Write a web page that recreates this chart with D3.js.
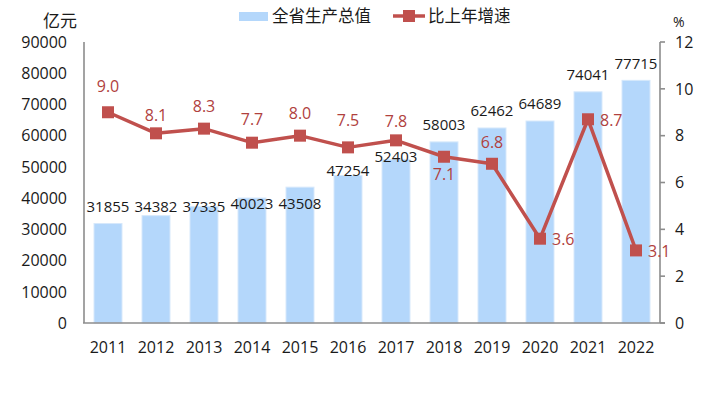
<!DOCTYPE html>
<meta charset="utf-8">
<head>
    <script src="https://d3js.org/d3.v7.min.js"></script>
    <style>
        body { margin: 0; background: #fff; }
        text { font-family: "Open Sans", "Noto Sans CJK SC", sans-serif; fill: #1a1a1a; }
        .cjk { font-family: "Noto Sans CJK SC", sans-serif; }
        .axis-line { stroke: #8c8c8c; stroke-width: 1.6; fill: none; }
    </style>
</head>
<body>
<div id="chart"></div>
<script>
    // data
    var years = ["2011", "2012", "2013", "2014", "2015", "2016", "2017", "2018", "2019", "2020", "2021", "2022"];
    var gdp = [31855, 34382, 37335, 40023, 43508, 47254, 52403, 58003, 62462, 64689, 74041, 77715];
    var growth = [9.0, 8.1, 8.3, 7.7, 8.0, 7.5, 7.8, 7.1, 6.8, 3.6, 8.7, 3.1];
    var leftTicks = [0, 10000, 20000, 30000, 40000, 50000, 60000, 70000, 80000, 90000];
    var rightTicks = [0, 2, 4, 6, 8, 10, 12];

    var width = 720, height = 398;
    // plot area edges (note: "top" is a reserved global in browsers)
    var pLeft = 84, pRight = 660, pTop = 42, pBottom = 323;

    var red = "#c0504d", redText = "#b0413e", blue = "#b4d7fb";

    var svg = d3.select("#chart").append("svg")
        .attr("width", width)
        .attr("height", height);

    var x = d3.scaleBand().domain(years).range([pLeft, pRight])
        .paddingInner(0.417).paddingOuter(0.2085);
    var yL = d3.scaleLinear().domain([0, 90000]).range([pBottom, pTop]);
    var yR = d3.scaleLinear().domain([0, 12]).range([pBottom, pTop]);

    // bars
    svg.append("g").selectAll("rect")
        .data(gdp)
        .enter().append("rect")
        .attr("x", function (d, i) { return x(years[i]); })
        .attr("y", function (d) { return yL(d); })
        .attr("width", x.bandwidth())
        .attr("height", function (d) { return yL(0) - yL(d); })
        .attr("fill", blue)
        .attr("stroke", "#d6e8fb")
        .attr("stroke-width", 1);

    // axes lines
    svg.append("line").attr("class", "axis-line")
        .attr("x1", pLeft).attr("x2", pLeft).attr("y1", pTop).attr("y2", pBottom);
    svg.append("line").attr("class", "axis-line")
        .attr("x1", pRight).attr("x2", pRight).attr("y1", pTop).attr("y2", pBottom);
    svg.append("line").attr("class", "axis-line")
        .attr("x1", pLeft - 1).attr("x2", pRight + 5).attr("y1", pBottom).attr("y2", pBottom);

    // left tick labels
    svg.append("g").selectAll("text")
        .data(leftTicks)
        .enter().append("text")
        .attr("x", 67)
        .attr("y", function (d) { return yL(d); })
        .attr("dy", "0.36em")
        .attr("text-anchor", "end")
        .style("font-size", "16px")
        .text(function (d) { return d; });

    // right ticks
    svg.append("g").selectAll("line")
        .data(rightTicks)
        .enter().append("line")
        .attr("class", "axis-line")
        .attr("x1", pRight).attr("x2", pRight + 5)
        .attr("y1", function (d) { return yR(d); })
        .attr("y2", function (d) { return yR(d); });
    svg.append("g").selectAll("text")
        .data(rightTicks)
        .enter().append("text")
        .attr("x", 675)
        .attr("y", function (d) { return yR(d); })
        .attr("dy", "0.36em")
        .style("font-size", "16px")
        .text(function (d) { return d; });

    // category labels
    svg.append("g").selectAll("text")
        .data(years)
        .enter().append("text")
        .attr("x", function (d) { return x(d) + x.bandwidth() / 2; })
        .attr("y", 347)
        .attr("dy", "0.36em")
        .attr("text-anchor", "middle")
        .style("font-size", "16px")
        .text(function (d) { return d; });

    // unit labels
    svg.append("text").attr("class", "cjk")
        .attr("x", 60).attr("y", 21).attr("dy", "0.36em")
        .attr("text-anchor", "middle")
        .style("font-size", "17px")
        .text("亿元");
    svg.append("text")
        .attr("x", 673).attr("y", 22).attr("dy", "0.36em")
        .style("font-size", "14px")
        .text("%");

    // bar value labels (a few nudged down to sit clear of the line, as in the original)
    var barNudge = { 0: 0, 1: 8, 2: 17, 3: 23, 4: 33, 5: 12, 6: 14 };
    svg.append("g").selectAll("text")
        .data(gdp)
        .enter().append("text")
        .attr("x", function (d, i) { return x(years[i]) + x.bandwidth() / 2; })
        .attr("y", function (d, i) { return yL(d) - 17 + (barNudge[i] || 0); })
        .attr("dy", "0.36em")
        .attr("text-anchor", "middle")
        .style("font-size", "15px")
        .text(function (d) { return d; });

    // growth line
    var cx = function (i) { return x(years[i]) + x.bandwidth() / 2; };
    var line = d3.line()
        .x(function (d, i) { return cx(i); })
        .y(function (d) { return yR(d); });
    svg.append("path")
        .datum(growth)
        .attr("d", line)
        .attr("fill", "none")
        .attr("stroke", red)
        .attr("stroke-width", 3.5)
        .attr("stroke-linejoin", "round");

    svg.append("g").selectAll("rect")
        .data(growth)
        .enter().append("rect")
        .attr("x", function (d, i) { return cx(i) - 6; })
        .attr("y", function (d) { return yR(d) - 6; })
        .attr("width", 12)
        .attr("height", 12)
        .attr("fill", red);

    // growth labels: above by default, 2018 below, last three to the right
    var lineLabelPos = function (i) {
        if (i === 7) return [0, 17, "middle"];
        if (i >= 9) return [12, 1, "start"];
        var up = [-26, -18, -22, -23, -22, -27, -19, 0, -22][i];
        return [0, up, "middle"];
    };
    svg.append("g").selectAll("text")
        .data(growth)
        .enter().append("text")
        .attr("x", function (d, i) { return cx(i) + lineLabelPos(i)[0]; })
        .attr("y", function (d, i) { return yR(d) + lineLabelPos(i)[1]; })
        .attr("dy", "0.36em")
        .attr("text-anchor", function (d, i) { return lineLabelPos(i)[2]; })
        .style("font-size", "16px")
        .style("fill", redText)
        .text(function (d) { return d.toFixed(1); });

    // legend
    var lg = svg.append("g");
    lg.append("rect")
        .attr("x", 239).attr("y", 12).attr("width", 29).attr("height", 9)
        .attr("fill", blue);
    lg.append("text").attr("class", "cjk")
        .attr("x", 272).attr("y", 16).attr("dy", "0.36em")
        .style("font-size", "16.5px")
        .text("全省生产总值");
    lg.append("line")
        .attr("x1", 393).attr("x2", 425).attr("y1", 16).attr("y2", 16)
        .attr("stroke", red).attr("stroke-width", 3.5);
    lg.append("rect")
        .attr("x", 403).attr("y", 10).attr("width", 12).attr("height", 12)
        .attr("fill", red);
    lg.append("text").attr("class", "cjk")
        .attr("x", 428).attr("y", 16).attr("dy", "0.36em")
        .style("font-size", "16.5px")
        .text("比上年增速");
</script>
</body>
